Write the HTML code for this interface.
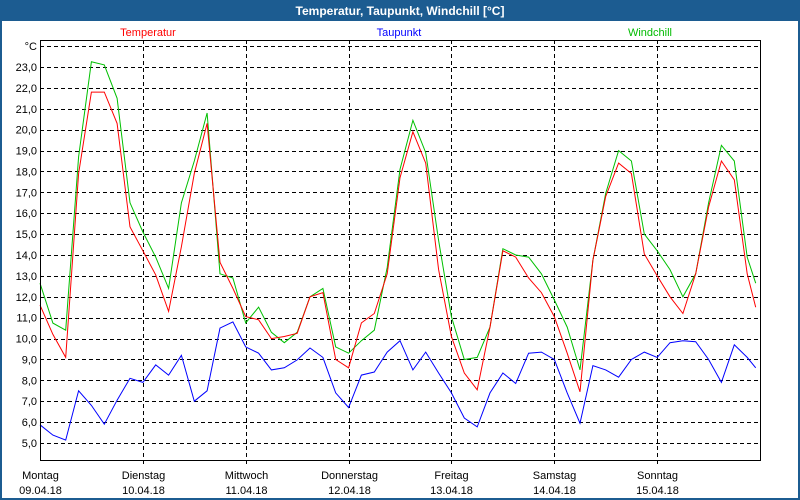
<!DOCTYPE html>
<html><head><meta charset="utf-8"><style>
body{margin:0;width:800px;height:500px;overflow:hidden;background:#fff;font-family:"Liberation Sans",sans-serif}
svg{display:block}
</style></head><body>
<svg id="chart" width="800" height="500">
<rect x="0" y="0" width="800" height="500" fill="#1c5c91"/>
<rect x="2" y="21" width="796" height="477" fill="#fff"/>
<text x="400" y="15" fill="#fff" font-size="12" font-weight="bold" text-anchor="middle">Temperatur, Taupunkt, Windchill [°C]</text>
<text x="148" y="36" fill="#f00" font-size="11" text-anchor="middle">Temperatur</text>
<text x="399" y="36" fill="#00f" font-size="11" text-anchor="middle">Taupunkt</text>
<text x="650" y="36" fill="#0b0" font-size="11" text-anchor="middle">Windchill</text>
<text x="37" y="50" font-size="11" text-anchor="end">°C</text>
<g id="grid" shape-rendering="crispEdges"></g><g id="series"></g>
<rect x="40.5" y="40.5" width="720" height="420" fill="none" stroke="#000" shape-rendering="crispEdges"/>
</svg>
<script>
const hours=[0,3,6,9,12,15,18,21,24,27,30,33,36,39,42,45,48,51,54,57,60,63,66,69,72,75,78,81,84,87,90,93,96,99,102,105,108,111,114,117,120,123,126,129,132,135,138,141,144,147,150,153,156,159,162,165,167];
const temperatur=[11.6,10.2,9.1,17.9,21.8,21.8,20.3,15.35,14.2,13.05,11.3,14.4,17.9,20.3,13.65,12.4,11.05,10.9,10.0,10.1,10.25,12.0,12.2,9.0,8.6,10.75,11.2,13.1,17.7,19.9,18.4,13.3,10.1,8.35,7.55,10.55,14.2,13.9,12.9,12.2,11.05,9.3,7.45,13.75,16.8,18.4,17.9,14.05,13.0,12.0,11.2,13.1,16.3,18.5,17.6,13.1,11.5];
const taupunkt=[5.87,5.38,5.14,7.5,6.8,5.9,7.05,8.1,7.9,8.74,8.25,9.2,7.0,7.5,10.5,10.8,9.6,9.3,8.5,8.6,8.98,9.55,9.1,7.4,6.7,8.25,8.4,9.35,9.9,8.5,9.35,8.35,7.4,6.2,5.77,7.4,8.35,7.85,9.3,9.35,9.0,7.4,5.95,8.7,8.5,8.15,9.0,9.35,9.1,9.8,9.9,9.85,9.0,7.9,9.7,9.1,8.6];
const windchill=[12.65,10.74,10.4,18.7,23.25,23.1,21.5,16.5,15.1,13.9,12.4,16.5,18.5,20.8,13.1,12.9,10.75,11.5,10.3,9.8,10.3,12.0,12.4,9.6,9.3,9.9,10.4,13.4,18.1,20.45,18.9,14.7,11.05,9.0,9.1,10.55,14.3,14.0,13.9,13.1,11.85,10.55,8.5,13.75,16.95,19.0,18.5,15.0,14.2,13.3,12.0,13.1,16.5,19.25,18.5,13.9,12.65];
const yTicks=[5,6,7,8,9,10,11,12,13,14,15,16,17,18,19,20,21,22,23];
const days=["Montag","Dienstag","Mittwoch","Donnerstag","Freitag","Samstag","Sonntag"];
const dates=["09.04.18","10.04.18","11.04.18","12.04.18","13.04.18","14.04.18","15.04.18"];
const NS="http://www.w3.org/2000/svg";
const X0=40,DAY=102.86;
const xS=h=>X0+h*DAY/24;
const yS=v=>67+(23-v)*20.89;
const grid=document.getElementById('grid'),ser=document.getElementById('series'),svg=document.getElementById('chart');
function mk(tag,attrs,parent){const e=document.createElementNS(NS,tag);for(const k in attrs)e.setAttribute(k,attrs[k]);parent.appendChild(e);return e;}
[24].concat(yTicks).forEach(v=>{const y=Math.round(yS(v))+0.5;
 const l=mk('line',{x1:40,x2:760,y1:y,y2:y,stroke:'#000','stroke-dasharray':'4,3'},grid);
 
 });
yTicks.forEach(v=>{const t=mk('text',{x:37,y:yS(v)+4,'font-size':11,'text-anchor':'end'},svg);
 t.textContent=v.toFixed(1).replace('.',',');
 
 });
days.forEach((d,i)=>{const x=Math.round(X0+i*DAY)+0.5;
 if(i>0){const l=mk('line',{x1:x,x2:x,y1:40,y2:466,stroke:'#000','stroke-dasharray':'4,3'},grid);
 
 }
 const t=mk('text',{x:x,y:479,'font-size':11,'text-anchor':'middle'},svg);t.textContent=d;
 
 
 const t2=mk('text',{x:x,y:494,'font-size':11,'text-anchor':'middle'},svg);t2.textContent=dates[i];
 
 });
function line(vals,color,name){const p=mk('polyline',{points:vals.map((v,i)=>xS(hours[i]).toFixed(1)+','+yS(v).toFixed(1)).join(' '),fill:'none',stroke:color,'stroke-width':1},ser);
 
 }
line(taupunkt,'#0000ff','taupunkt-line');
line(windchill,'#00c000','windchill-line');
line(temperatur,'#ff0000','temperatur-line');
</script>
</body></html>
